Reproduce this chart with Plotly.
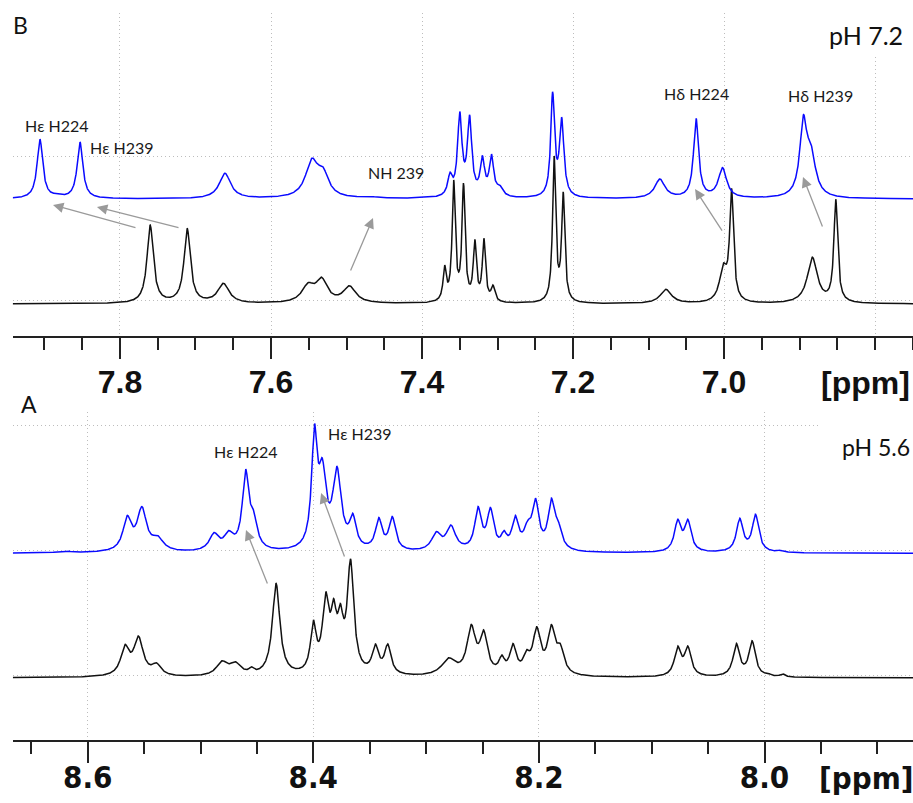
import numpy as np
import plotly.graph_objects as go

# ---------------- Panel B (pH 7.2), aromatic region 7.94 - 6.75 ppm ----------------
# peak centres (ppm), apparent peak heights (axis units), line widths (FWHM, ppm)
b_blue_ppm = [7.906, 7.883, 7.853, 7.661, 7.599, 7.546, 7.531, 7.471, 7.363, 7.350,
              7.337, 7.320, 7.308, 7.297, 7.227, 7.215, 7.085, 7.037, 7.002, 6.895, 6.885]
b_blue_height = [0.415, 0.040, 0.396, 0.179, 0.017, 0.283, 0.222, 0.020, 0.186, 0.607,
                 0.584, 0.299, 0.313, 0.097, 0.746, 0.568, 0.139, 0.561, 0.218, 0.584, 0.387]
b_blue_fwhm = [0.009, 0.012, 0.009, 0.018, 0.020, 0.020, 0.018, 0.020, 0.007, 0.007,
               0.007, 0.007, 0.007, 0.010, 0.006, 0.007, 0.016, 0.008, 0.013, 0.011, 0.015]

b_black_ppm = [7.760, 7.727, 7.711, 7.663, 7.551, 7.533, 7.496, 7.370, 7.358, 7.345,
               7.330, 7.318, 7.306, 7.225, 7.213, 7.077, 7.001, 6.990, 6.883, 6.852]
b_black_height = [0.549, 0.063, 0.526, 0.144, 0.148, 0.186, 0.127, 0.271, 0.862, 0.843,
                  0.450, 0.457, 0.132, 1.029, 0.780, 0.102, 0.283, 0.804, 0.325, 0.728]
b_black_fwhm = [0.010, 0.015, 0.010, 0.018, 0.020, 0.018, 0.020, 0.005, 0.005, 0.005,
                0.005, 0.005, 0.006, 0.005, 0.005, 0.018, 0.012, 0.006, 0.016, 0.006]

b_blue_base = 0.707
b_black_base = -0.023

# ---------------- Panel A (pH 5.6), amide/aromatic region 8.67 - 7.87 ppm ----------------
a_blue_ppm = [8.627, 8.617, 8.565, 8.552, 8.538, 8.488, 8.475, 8.460, 8.453, 8.399,
              8.392, 8.379, 8.365, 8.342, 8.330, 8.291, 8.278, 8.254, 8.243, 8.231,
              8.221, 8.210, 8.203, 8.189, 8.183, 8.077, 8.068, 8.022, 8.008, 7.986]
a_blue_height = [0.012, 0.016, 0.302, 0.374, 0.142, 0.166, 0.182, 0.672, 0.344, 1.034,
                 0.760, 0.694, 0.320, 0.286, 0.294, 0.174, 0.226, 0.374, 0.366, 0.182,
                 0.302, 0.264, 0.440, 0.440, 0.264, 0.272, 0.272, 0.280, 0.312, 0.024]
a_blue_fwhm = [0.008, 0.008, 0.009, 0.010, 0.012, 0.010, 0.010, 0.007, 0.008, 0.006,
               0.008, 0.009, 0.007, 0.007, 0.007, 0.010, 0.010, 0.007, 0.007, 0.006,
               0.007, 0.008, 0.007, 0.007, 0.008, 0.007, 0.007, 0.007, 0.007, 0.006]

a_black_ppm = [8.567, 8.555, 8.539, 8.481, 8.469, 8.455, 8.433, 8.400, 8.389, 8.382,
               8.376, 8.367, 8.345, 8.334, 8.280, 8.260, 8.249, 8.233, 8.223, 8.211,
               8.202, 8.189, 8.181, 8.077, 8.068, 8.025, 8.011, 7.997, 7.984]
a_black_height = [0.266, 0.334, 0.120, 0.136, 0.128, 0.088, 0.754, 0.462, 0.688, 0.634,
                  0.594, 0.950, 0.270, 0.270, 0.160, 0.426, 0.382, 0.182, 0.274, 0.224,
                  0.408, 0.426, 0.272, 0.254, 0.254, 0.274, 0.296, 0.040, 0.032]
a_black_fwhm = [0.009, 0.010, 0.010, 0.012, 0.012, 0.005, 0.008, 0.006, 0.007, 0.006,
                0.006, 0.007, 0.007, 0.007, 0.015, 0.009, 0.008, 0.006, 0.007, 0.007,
                0.008, 0.008, 0.008, 0.007, 0.007, 0.007, 0.007, 0.005, 0.005]

a_blue_base = 0.974
a_black_base = -0.022

# axis windows (ppm, plotted high -> low)
b_window = (7.9421, 6.7497)
a_window = (8.6664, 7.8684)


def lorentz(x, centre, fwhm):
    return 1.0 / (1.0 + ((x - centre) / (fwhm / 2.0)) ** 2)


def line_amplitudes(ppm, height, fwhm):
    """Lorentzian amplitudes whose sum reproduces the listed peak heights."""
    c = np.asarray(ppm, float)
    h = np.asarray(height, float)
    w = np.asarray(fwhm, float)
    m = lorentz(c[:, None], c[None, :], w[None, :])
    active = np.ones(len(c), bool)
    amp = np.zeros(len(c))
    for _ in range(60):
        amp = np.zeros(len(c))
        amp[active] = np.linalg.lstsq(m[:, active], h, rcond=None)[0]
        if (amp[active] >= 0).all():
            break
        active &= amp > 0
    return np.clip(amp, 0, None)


def spectrum(window, ppm, height, fwhm, base):
    x = np.linspace(window[0], window[1], 4000)
    amp = line_amplitudes(ppm, height, fwhm)
    y = np.full_like(x, base)
    for c, a, w in zip(ppm, amp, fwhm):
        y += a * lorentz(x, c, w)
    return x, y


W, H = 913, 803
BLUE = "#0a0aff"
BLACK = "#111111"
GRID = "#bdbdbd"
ARROW = "#9a9a9a"
LABEL_FONT = "Lato, 'Open Sans', 'DejaVu Sans', sans-serif"

fig = go.Figure()

for window, ppm, hgt, fw, base, col, xa, ya in [
    (b_window, b_black_ppm, b_black_height, b_black_fwhm, b_black_base, BLACK, "x", "y"),
    (b_window, b_blue_ppm, b_blue_height, b_blue_fwhm, b_blue_base, BLUE, "x", "y"),
    (a_window, a_black_ppm, a_black_height, a_black_fwhm, a_black_base, BLACK, "x2", "y2"),
    (a_window, a_blue_ppm, a_blue_height, a_blue_fwhm, a_blue_base, BLUE, "x2", "y2"),
]:
    x, y = spectrum(window, ppm, hgt, fw, base)
    fig.add_trace(go.Scatter(x=x, y=y, mode="lines", xaxis=xa, yaxis=ya,
                             line=dict(color=col, width=1.5), hoverinfo="skip"))


def px_x(px):
    return px / W


def px_y(py):
    return 1 - py / H


tick_font_b = dict(family="'Liberation Sans', Arial, sans-serif", size=32,
                   color="#111", weight="bold")
tick_font_a = dict(family="'Liberation Sans Narrow', 'Arial Narrow', 'DejaVu Sans Condensed', 'Liberation Sans', sans-serif",
                   size=31, color="#111", weight="bold")

common_x = dict(showline=True, linewidth=2, linecolor="#222", ticks="outside",
                ticklen=21, tickwidth=1.6, tickcolor="#222", showgrid=True,
                gridcolor=GRID, griddash="1px,3px", gridwidth=1.2, zeroline=False,
                tickmode="array", automargin=False)
common_y = dict(tickmode="array", tickvals=[0, 1, 2], showticklabels=False,
                showgrid=True, gridcolor=GRID, griddash="1px,3px", gridwidth=1.2,
                zeroline=False, showline=False, ticks="", automargin=False)

b_major = [7.8, 7.6, 7.4, 7.2, 7.0, 6.8]
b_major_text = ["7.8", "7.6", "7.4", "7.2", "7.0", ""]
b_minor = [round(7.95 - 0.05 * k, 2) for k in range(25)]
a_major = [8.6, 8.4, 8.2, 8.0]
a_major_text = ["8.6", "8.4", "8.2", "8.0"]
a_minor = [round(8.65 - 0.05 * k, 2) for k in range(17)]

fig.update_layout(
    template="none",
    width=W, height=H, margin=dict(l=0, r=0, t=0, b=0, autoexpand=False),
    paper_bgcolor="white", plot_bgcolor="white", showlegend=False,
    xaxis=dict(common_x, domain=[px_x(12.7), 1], range=list(b_window), anchor="y",
               tickvals=b_major, ticktext=b_major_text, tickfont=tick_font_b,
               ticklabelstandoff=-4,
               minor=dict(tickvals=b_minor, ticklen=12, tickwidth=1.6,
                          tickcolor="#222", ticks="outside", showgrid=False)),
    yaxis=dict(common_y, domain=[px_y(336), px_y(12.7)], range=[-0.2453, 2.0014],
               anchor="x"),
    xaxis2=dict(common_x, domain=[px_x(12.8), 1], range=list(a_window), anchor="y2",
                tickvals=a_major, ticktext=a_major_text, tickfont=tick_font_a,
                ticklabelstandoff=-12,
                minor=dict(tickvals=a_minor, ticklen=12, tickwidth=1.6,
                           tickcolor="#222", ticks="outside", showgrid=False)),
    yaxis2=dict(common_y, domain=[px_y(740), px_y(412)], range=[-0.52, 2.104],
                anchor="x2"),
)

# white boxes behind the pH labels
fig.add_shape(type="rect", xref="paper", yref="paper", x0=px_x(813), x1=1,
              y0=px_y(55), y1=1, fillcolor="white", line_width=0, layer="above")
fig.add_shape(type="rect", xref="paper", yref="paper", x0=px_x(820), x1=1,
              y0=px_y(470), y1=px_y(410), fillcolor="white", line_width=0, layer="above")

ann = []

# peak assignments
labels = [
    ("x", "y", 7.8828, 1.221, "Hε H224"),
    ("x", "y", 7.7974, 1.068, "Hε H239"),
    ("x", "y", 7.4338, 0.894, "NH 239"),
    ("x", "y", 7.0364, 1.443, "Hδ H224"),
    ("x", "y", 6.8728, 1.429, "Hδ H239"),
    ("x2", "y2", 8.4601, 1.792, "Hε H224"),
    ("x2", "y2", 8.3586, 1.936, "Hε H239"),
]
for xr, yr, x, y, t in labels:
    ann.append(dict(xref=xr, yref=yr, x=x, y=y, text=t, showarrow=False,
                    font=dict(family=LABEL_FONT, size=16, color="#1a1a1a")))

# chemical-shift change arrows (tail -> head)
arrows = [
    ("x", "y", 7.7775, 0.505, 7.8887, 0.665),
    ("x", "y", 7.7205, 0.505, 7.8305, 0.651),
    ("x", "y", 7.4954, 0.199, 7.4649, 0.575),
    ("x", "y", 7.0013, 0.477, 7.0384, 0.776),
    ("x", "y", 6.8689, 0.505, 6.8954, 0.860),
    ("x2", "y2", 8.4402, 0.720, 8.4597, 1.160),
    ("x2", "y2", 8.3719, 0.936, 8.3931, 1.456),
]
for xr, yr, tx, ty, hx, hy in arrows:
    ann.append(dict(xref=xr, yref=yr, axref=xr, ayref=yr, x=hx, y=hy, ax=tx, ay=ty,
                    text="", showarrow=True, arrowhead=2, arrowsize=1.6,
                    arrowwidth=1.3, arrowcolor=ARROW, standoff=0))

# panel letters and pH
ann += [
    dict(xref="paper", yref="paper", x=px_x(11), y=px_y(25), xanchor="left",
         yanchor="middle", text="B", showarrow=False,
         font=dict(family=LABEL_FONT, size=23, color="#111")),
    dict(xref="paper", yref="paper", x=px_x(19), y=px_y(404), xanchor="left",
         yanchor="middle", text="A", showarrow=False,
         font=dict(family=LABEL_FONT, size=23, color="#111")),
    dict(xref="paper", yref="paper", x=px_x(905), y=px_y(35), xanchor="right",
         yanchor="middle", text="pH 7.2", showarrow=False,
         font=dict(family=LABEL_FONT, size=25, color="#111")),
    dict(xref="paper", yref="paper", x=px_x(912), y=px_y(447), xanchor="right",
         yanchor="middle", text="pH 5.6", showarrow=False,
         font=dict(family=LABEL_FONT, size=23, color="#111")),
    dict(xref="paper", yref="paper", x=px_x(865), y=px_y(383), xanchor="center",
         yanchor="middle", text="[ppm]", showarrow=False, font=tick_font_b),
    dict(xref="paper", yref="paper", x=px_x(866), y=px_y(778), xanchor="center",
         yanchor="middle", text="[ppm]", showarrow=False, font=tick_font_a),
]
fig.update_layout(annotations=ann)

fig.write_html("out.html")
